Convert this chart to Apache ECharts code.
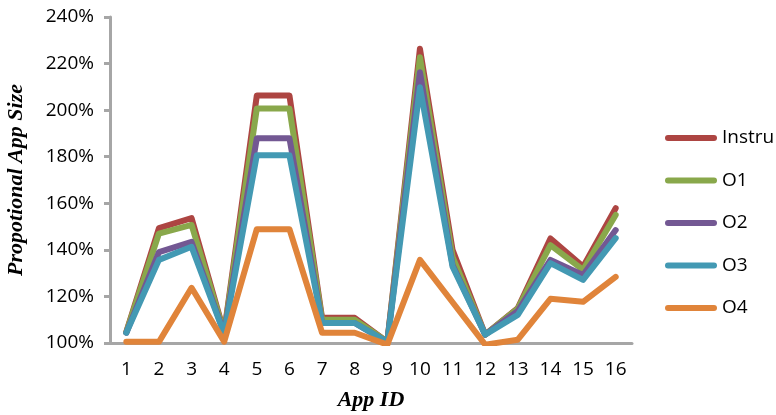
<!DOCTYPE html>
<html>
<head>
<meta charset="utf-8">
<script src="https://cdn.jsdelivr.net/npm/echarts@6/dist/echarts.min.js"></script>
<style>
  html, body { margin: 0; padding: 0; background: #fff; }
  #chart { width: 776px; height: 415px; }
</style>
</head>
<body>
<div id="chart"></div>
<script>
// App IDs along the x axis
const appIds = ['1','2','3','4','5','6','7','8','9','10','11','12','13','14','15','16'];

// Proportional app size (%) for each variant
const instru = [104.8, 149.3, 153.6, 104.5, 206.3, 206.3, 110.8, 110.8, 100.5, 226.4, 140.0, 103.6, 115.0, 144.9, 132.8, 157.9];
const o1     = [104.6, 147.0, 150.7, 104.3, 200.7, 200.7, 110.0, 110.0, 100.5, 222.7, 137.0, 103.6, 114.8, 142.0, 131.4, 155.0];
const o2     = [104.4, 139.0, 143.4, 104.2, 187.9, 187.9, 108.6, 108.6, 100.4, 216.3, 133.5, 103.6, 113.8, 135.7, 129.2, 148.5];
const o3     = [104.4, 135.7, 141.3, 104.0, 180.6, 180.6, 108.6, 108.6, 100.4, 209.8, 132.8, 103.6, 112.1, 134.3, 127.1, 145.0];
const o4     = [100.5, 100.5, 123.7, 100.6, 148.9, 148.9, 104.4, 104.4,  99.3, 135.7, 117.5,  99.3, 101.4, 119.0, 117.7, 128.4];

// Y axis ticks
const yMin = 100, yMax = 240, yStep = 20;

const seriesNames = ['Instru', 'O1', 'O2', 'O3', 'O4'];
const seriesData = [instru, o1, o2, o3, o4];
const colors = ['#AD4542', '#89A84B', '#735893', '#4399B3', '#E0843A'];

const chart = echarts.init(document.getElementById('chart'), null, { renderer: 'canvas' });

const titleFont = { fontFamily: 'Liberation Serif', fontStyle: 'italic', fontWeight: 'bold', fontSize: 22, color: '#000' };
const tickFont = { fontFamily: 'Open Sans', fontSize: 19, color: '#000' };

// capsule-shaped legend swatch (line with round caps)
const capsuleIcon = 'path://M3,0 L49,0 A3,3 0 0 1 49,6 L3,6 A3,3 0 0 1 3,0 Z';

chart.setOption({
  animation: false,
  color: colors,
  grid: { left: 110, right: 144, top: 17, bottom: 72, outerBoundsMode: 'none', containLabel: false },
  legend: {
    orient: 'vertical',
    left: 660,
    top: 123,
    itemWidth: 52,
    itemHeight: 6,
    itemGap: 22.5,
    icon: capsuleIcon,
    textStyle: Object.assign({}, tickFont, { lineHeight: 20 }),
    data: seriesNames
  },
  xAxis: {
    type: 'category',
    data: appIds,
    boundaryGap: true,
    name: 'App ID',
    nameLocation: 'middle',
    nameGap: 46,
    nameTextStyle: titleFont,
    axisLine: { lineStyle: { color: '#A6A6A6', width: 3 } },
    axisTick: { show: false },
    axisLabel: Object.assign({ margin: 17 }, tickFont)
  },
  yAxis: {
    type: 'value',
    min: yMin,
    max: yMax,
    interval: yStep,
    name: 'Propotional App Size',
    nameLocation: 'middle',
    nameGap: 83,
    nameTextStyle: titleFont,
    axisLine: { show: true, lineStyle: { color: '#A6A6A6', width: 3 } },
    axisTick: { show: true, length: 6, lineStyle: { color: '#A6A6A6', width: 3 } },
    splitLine: { show: false },
    axisLabel: Object.assign({ margin: 16, formatter: '{value}%' }, tickFont)
  },
  series: seriesNames.map((name, i) => ({
    name: name,
    type: 'line',
    data: seriesData[i],
    symbol: 'none',
    lineStyle: { width: 6, cap: 'round', join: 'round', color: colors[i] },
    itemStyle: { color: colors[i] },
    z: 2 + i
  }))
});
</script>
</body>
</html>
